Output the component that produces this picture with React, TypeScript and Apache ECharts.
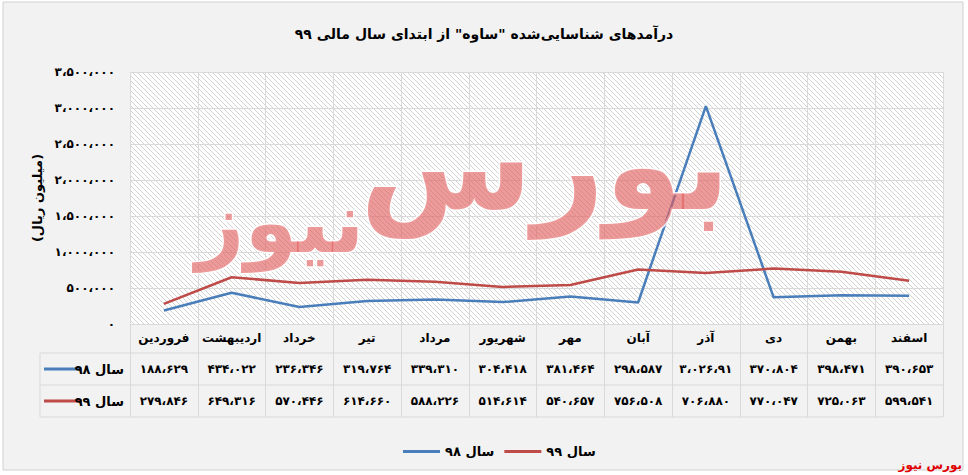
import React, { useEffect, useRef } from "react";
import * as echarts from "echarts";

const title = 'درآمدهای شناسایی‌شده "ساوه" از ابتدای سال مالی ۹۹';
const yAxisName = "(میلیون ریال)";
const months = ["فروردین", "اردیبهشت", "خرداد", "تیر", "مرداد", "شهریور", "مهر", "آبان", "آذر", "دی", "بهمن", "اسفند"];
const seriesNames = ["سال ۹۸", "سال ۹۹"];
const values98 = [188629, 434022, 236346, 319764, 339310, 304418, 381464, 298587, 3026910, 370804, 398471, 390653];
const values99 = [279846, 649316, 570446, 614660, 588226, 514614, 540657, 756508, 706880, 770047, 725063, 599541];
const table98 = ["۱۸۸،۶۲۹", "۴۳۴،۰۲۲", "۲۳۶،۳۴۶", "۳۱۹،۷۶۴", "۳۳۹،۳۱۰", "۳۰۴،۴۱۸", "۳۸۱،۴۶۴", "۲۹۸،۵۸۷", "۳،۰۲۶،۹۱", "۳۷۰،۸۰۴", "۳۹۸،۴۷۱", "۳۹۰،۶۵۳"];
const table99 = ["۲۷۹،۸۴۶", "۶۴۹،۳۱۶", "۵۷۰،۴۴۶", "۶۱۴،۶۶۰", "۵۸۸،۲۲۶", "۵۱۴،۶۱۴", "۵۴۰،۶۵۷", "۷۵۶،۵۰۸", "۷۰۶،۸۸۰", "۷۷۰،۰۴۷", "۷۲۵،۰۶۳", "۵۹۹،۵۴۱"];
const watermarkMain = "بورس";
const watermarkSub = "نیوز";
const sourceText = "بورس نیوز";

const toFa = (s: string) => s.replace(/\d/g, (d) => "۰۱۲۳۴۵۶۷۸۹"[+d]);
const fmtAxis = (v: number) => toFa(Math.round(v).toLocaleString("en-US")).replace(/,/g, "،");

const FONT = "DejaVu Sans";
const BLUE = "#4a7ebb";
const RED = "#be4b48";
const GRID = "#d9d9d9";

function makeHatch() {
  const n = 5;
  const c = document.createElement("canvas");
  c.width = n;
  c.height = n;
  const ctx = c.getContext("2d")!;
  ctx.fillStyle = "#ffffff";
  ctx.fillRect(0, 0, n, n);
  ctx.strokeStyle = "#d2d2d2";
  ctx.lineWidth = 1;
  ctx.beginPath();
  for (let k = -n; k <= n; k += n) {
    ctx.moveTo(k - 1, -1);
    ctx.lineTo(k + n + 1, n + 1);
  }
  ctx.stroke();
  return c;
}

export default function App() {
  const ref = useRef<HTMLDivElement>(null);
  useEffect(() => {
    if (!ref.current) return;
    const chart = echarts.init(ref.current, null, { renderer: "svg" });
    const hatch = makeHatch();
    const left = 130, top = 72, right = 943, bottom = 324;
    const rowLabel = (y: number, color: string, name: string) => [
      { type: "line", shape: { x1: 44, y1: y, x2: 82, y2: y }, style: { stroke: color, lineWidth: 3 }, z: 10 },
      { type: "text", style: { text: name, x: 124, y: y, textAlign: "right", textVerticalAlign: "middle", fill: "#000", fontSize: 13, fontWeight: "bold", fontFamily: FONT }, z: 10 },
    ];
    const wmStyle = { textAlign: "center", textVerticalAlign: "middle", fill: "rgba(226,92,92,0.62)", stroke: "rgba(255,255,255,0.85)", lineWidth: 3, fontWeight: "bold", fontFamily: FONT };
    chart.setOption({
      animation: false,
      backgroundColor: "#ffffff",
      title: {
        text: title,
        left: "center",
        top: 22,
        textStyle: { fontFamily: FONT, fontSize: 14, fontWeight: "bold", color: "#000" },
      },
      legend: {
        data: seriesNames,
        left: 398,
        top: 440,
        icon: "rect",
        itemWidth: 37,
        itemHeight: 3,
        itemGap: 10,
        textStyle: { fontFamily: FONT, fontSize: 13, fontWeight: "bold", color: "#000" },
      },
      grid: {
        left,
        top,
        width: right - left,
        height: bottom - top,
        show: true,
        borderWidth: 0,
        backgroundColor: { image: hatch, repeat: "repeat", imageWidth: 5, imageHeight: 5 },
      },
      xAxis: [
        {
          type: "category",
          data: months,
          boundaryGap: true,
          axisLine: { show: true, lineStyle: { color: GRID } },
          axisTick: { show: true, interval: 0, length: 93, lineStyle: { color: GRID } },
          splitLine: { show: true, interval: 0, lineStyle: { color: GRID } },
          axisLabel: { interval: 0, margin: 8, fontFamily: FONT, fontSize: 12, fontWeight: "bold", color: "#000" },
        },
        {
          type: "category",
          data: table98,
          position: "bottom",
          offset: 31,
          boundaryGap: true,
          axisLine: { show: false },
          axisTick: { show: false },
          axisLabel: { interval: 0, margin: 8, fontFamily: FONT, fontSize: 12, fontWeight: "bold", color: "#000" },
        },
        {
          type: "category",
          data: table99,
          position: "bottom",
          offset: 63,
          boundaryGap: true,
          axisLine: { show: false },
          axisTick: { show: false },
          axisLabel: { interval: 0, margin: 8, fontFamily: FONT, fontSize: 12, fontWeight: "bold", color: "#000" },
        },
      ],
      yAxis: {
        type: "value",
        min: 0,
        max: 3500000,
        interval: 500000,
        name: yAxisName,
        nameLocation: "middle",
        nameRotate: 90,
        nameGap: 86,
        nameTextStyle: { fontFamily: FONT, fontSize: 13, fontWeight: "bold", color: "#000" },
        axisLine: { show: false },
        axisTick: { show: false },
        splitLine: { show: true, lineStyle: { color: GRID } },
        axisLabel: { margin: 15, formatter: fmtAxis, fontFamily: FONT, fontSize: 12, fontWeight: "bold", color: "#000" },
      },
      series: [
        { name: seriesNames[0], type: "line", data: values98, symbol: "none", lineStyle: { color: BLUE, width: 2.5 }, itemStyle: { color: BLUE }, z: 3 },
        { name: seriesNames[1], type: "line", data: values99, symbol: "none", lineStyle: { color: RED, width: 2.5 }, itemStyle: { color: RED }, z: 3 },
      ],
      graphic: [
        { type: "rect", shape: { x: 3, y: 2, width: 960, height: 468 }, style: { fill: "#f2f2f2", stroke: "#d0d0d0", lineWidth: 1 }, z: -10, silent: true },
        { type: "line", shape: { x1: 40, y1: 353, x2: right, y2: 353 }, style: { stroke: GRID, lineWidth: 1 }, z: 5 },
        { type: "line", shape: { x1: 40, y1: 385, x2: right, y2: 385 }, style: { stroke: GRID, lineWidth: 1 }, z: 5 },
        { type: "line", shape: { x1: 40, y1: 417, x2: right, y2: 417 }, style: { stroke: GRID, lineWidth: 1 }, z: 5 },
        { type: "line", shape: { x1: 40, y1: 353, x2: 40, y2: 417 }, style: { stroke: GRID, lineWidth: 1 }, z: 5 },
        ...rowLabel(369, BLUE, seriesNames[0]),
        ...rowLabel(401, RED, seriesNames[1]),
        { type: "text", silent: true, z: 50, style: { ...wmStyle, text: watermarkMain, x: 545, y: 165, fontSize: 125 } },
        { type: "text", silent: true, z: 50, style: { ...wmStyle, text: watermarkSub, x: 280, y: 222, fontSize: 85 } },
        {
          type: "text",
          style: { text: sourceText, x: 962, y: 465, textAlign: "right", textVerticalAlign: "middle", fill: "#e00000", fontSize: 12, fontWeight: "bold", fontFamily: FONT },
          z: 10,
        },
      ],
    });
    return () => chart.dispose();
  }, []);
  return <div ref={ref} style={{ position: "fixed", left: 0, top: 0, width: 968, height: 475 }} />;
}
